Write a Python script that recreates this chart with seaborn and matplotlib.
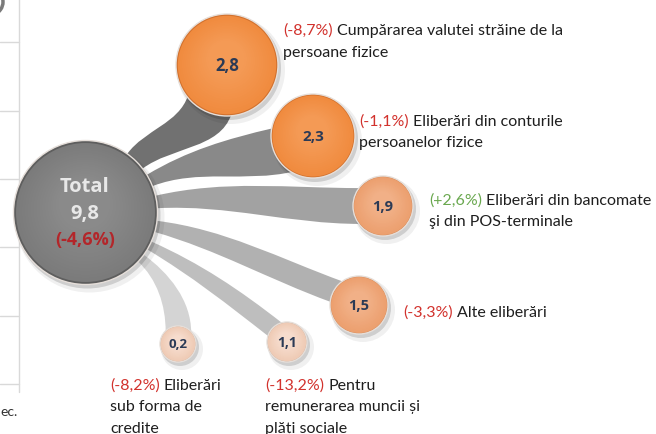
import numpy as np
import pandas as pd
import matplotlib.pyplot as plt
import seaborn as sns
from matplotlib.path import Path
from matplotlib.patches import PathPatch, Arc
from matplotlib.colors import to_rgb


# --- data ---
values = [2.8, 2.3, 1.9, 1.5, 1.1, 0.2]
changes = ["(-8,7%)", "(-1,1%)", "(+2,6%)", "(-3,3%)", "(-13,2%)", "(-8,2%)"]
descriptions = [
    "Cumpărarea valutei străine de la\npersoane fizice",
    "Eliberări din conturile\npersoanelor fizice",
    "Eliberări din bancomate\nşi din POS-terminale",
    "Alte eliberări",
    "Pentru\nremunerarea muncii și\nplăți sociale",
    "Eliberări\nsub forma de\ncredite",
]
total_value = 9.8
total_change = "(-4,6%)"

# --- layout (pixels, y down) ---
W, H, DPI = 656, 435, 100
total_x, total_y, total_r = 85, 213, 72
bubble_x = [227, 313, 383, 359, 287, 178]
bubble_y = [66, 137, 207, 306, 343, 345]
bubble_r = [51, 42, 30, 29, 20, 18]
band_total_ang = [(-54, -37), (-31, -21), (-13, -3), (7, 16), (24, 31), (36, 43)]
band_bubble_ang = [(142, 85), (191, 119), (218, 142), (236, 186), (256, 197), (319, 225)]
band_end_dir = [108, 167, 180, 200, 218, 270]
band_colors = ["#717171", "#898989", "#a2a2a2", "#b1b1b1", "#bebebe", "#d4d4d4"]
label_x = [283, 359, 429, 403, 265, 110]
label_y = [35, 126, 205, 317, 390, 390]
line_gap = 21.5

rim = ["#d2712d", "#d2712d", "#d38a5b", "#d38a5b", "#c3afa2", "#c3afa2"]
body = ["#f08b3f", "#f08b3f", "#eca06f", "#eca06f", "#efcbb5", "#efcbb5"]
core = ["#f49a55", "#f49a55", "#f1b087", "#f1b087", "#f6dccd", "#f6dccd"]

sns.set_theme(style="white")
plt.rcParams["font.family"] = ["Lato", "DejaVu Sans"]
BOLD = ["Open Sans", "DejaVu Sans"]

fig = plt.figure(figsize=(W / DPI, H / DPI), dpi=DPI)
ax = fig.add_axes([0, 0, 1, 1])
ax.set_xlim(0, W)
ax.set_ylim(H, 0)
ax.axis("off")


def pt_size(r):
    return (2 * r * 72 / DPI) ** 2


def disc_layer(xs, ys, radii, colors, alpha=1.0, z=3, **kw):
    d = pd.DataFrame({"px": xs, "py": ys, "key": [f"k{i}" for i in range(len(xs))]})
    sns.scatterplot(data=d, x="px", y="py", hue="key", size="key",
                    palette=dict(zip(d["key"], colors)),
                    sizes=dict(zip(d["key"], [pt_size(r) for r in radii])),
                    legend=False, alpha=alpha, zorder=z, ax=ax, **kw)


def mix(c1, c2, t):
    a, b = np.array(to_rgb(c1)), np.array(to_rgb(c2))
    return tuple(a + (b - a) * t)


def shaded_discs(xs, ys, rs, rims, bodies, cores, z):
    xs, ys, rs = np.array(xs, float), np.array(ys, float), np.array(rs, float)
    # soft shadow
    disc_layer(xs + 4, ys + 5, rs + 3, ["#000000"] * len(xs), alpha=0.06, z=z, linewidth=0)
    disc_layer(xs + 2, ys + 3, rs + 1, ["#000000"] * len(xs), alpha=0.14, z=z, linewidth=0)
    # rim
    disc_layer(xs, ys, rs, rims, z=z + 0.1, linewidth=1.0, edgecolor="#e6dfda")
    # gradient body
    for i, t in enumerate(np.linspace(0, 1, 16)):
        frac = 0.965 - 0.6 * t
        cols = [mix(b, c, t) for b, c in zip(bodies, cores)]
        disc_layer(xs - 0.6 * t, ys - rs * 0.12 * t, rs * frac, cols,
                   z=z + 0.2 + i * 0.01, linewidth=0)


# --- left fragment of neighbouring chart ---
ax.plot([19, 19], [0, 393], color="#d9d9d9", lw=1, zorder=1)
for gy in [43, 112, 180, 248, 317, 385]:
    ax.plot([0, 19], [gy, gy], color="#d9d9d9", lw=1, zorder=1)
ax.add_patch(Arc((-10, 3), 26, 26, theta1=-70, theta2=70, color="#5a5a5a", lw=2.5,
                 alpha=0.8, zorder=1))
ax.text(0, 412, "ec.", fontsize=10, color="#333333", va="center", ha="left")

# --- connecting bands ---
for i in range(len(values)):
    sides = []
    for a, b in zip(band_total_ang[i], band_bubble_ang[i]):
        ar, br = np.radians(a), np.radians(b)
        P = np.array([total_x + total_r * np.cos(ar), total_y + total_r * np.sin(ar)])
        Q = np.array([bubble_x[i] + bubble_r[i] * 0.97 * np.cos(br),
                      bubble_y[i] + bubble_r[i] * 0.97 * np.sin(br)])
        L = np.linalg.norm(Q - P)
        e = np.radians(band_end_dir[i])
        C1 = P + 0.35 * L * np.array([np.cos(ar), np.sin(ar)])
        C2 = Q + 0.35 * L * np.array([np.cos(e), np.sin(e)])
        sides.append((P, C1, C2, Q))
    (P0, A1, A2, Q0), (P1, B1, B2, Q1) = sides
    verts = [P0, A1, A2, Q0, Q1, B2, B1, P1, P0]
    codes = [Path.MOVETO, Path.CURVE4, Path.CURVE4, Path.CURVE4, Path.LINETO,
             Path.CURVE4, Path.CURVE4, Path.CURVE4, Path.CLOSEPOLY]
    ax.add_patch(PathPatch(Path(verts, codes), facecolor=band_colors[i],
                           edgecolor="none", zorder=2))

# --- total circle ---
shaded_discs([total_x], [total_y], [total_r], ["#5e5e5e"], ["#7b7b7b"], ["#8a8a8a"], z=3)
ax.text(total_x, 187, "Total", ha="center", va="center", fontsize=14.5, family=BOLD,
        fontweight="bold", color="#e8e8e8", zorder=5)
ax.text(total_x, 214, f"{total_value:.1f}".replace(".", ","), ha="center", va="center",
        fontsize=14.5, family=BOLD, fontweight="bold", color="#e8e8e8", zorder=5)
ax.text(total_x, 240, total_change, ha="center", va="center", fontsize=13, family=BOLD,
        fontweight="bold", color="#b3262a", zorder=5)

# --- bubbles ---
shaded_discs(bubble_x, bubble_y, bubble_r, rim, body, core, z=3)
val_sizes = [12, 11, 10.5, 10.5, 10, 9.5]
for i, v in enumerate(values):
    ax.text(bubble_x[i], bubble_y[i], f"{v:.1f}".replace(".", ","), ha="center",
            va="center", fontsize=val_sizes[i], family=BOLD, fontweight="bold",
            color="#2b3a55", zorder=6)

# --- labels ---
fig.canvas.draw()
renderer = fig.canvas.get_renderer()
for i in range(len(values)):
    col = "#6aa84f" if changes[i].startswith("(+") else "#d2322d"
    t = ax.text(label_x[i], label_y[i], changes[i], fontsize=11.5, color=col,
                va="baseline", ha="left", zorder=6)
    wpx = t.get_window_extent(renderer=renderer).width
    lines = descriptions[i].split("\n")
    ax.text(label_x[i] + wpx + 4, label_y[i], lines[0], fontsize=11.5, color="#1e1e1e",
            va="baseline", ha="left", zorder=6)
    for j, ln in enumerate(lines[1:], start=1):
        ax.text(label_x[i], label_y[i] + j * line_gap, ln, fontsize=11.5, color="#1e1e1e",
                va="baseline", ha="left", zorder=6)

fig.savefig("out.png", dpi=DPI, facecolor="white")
